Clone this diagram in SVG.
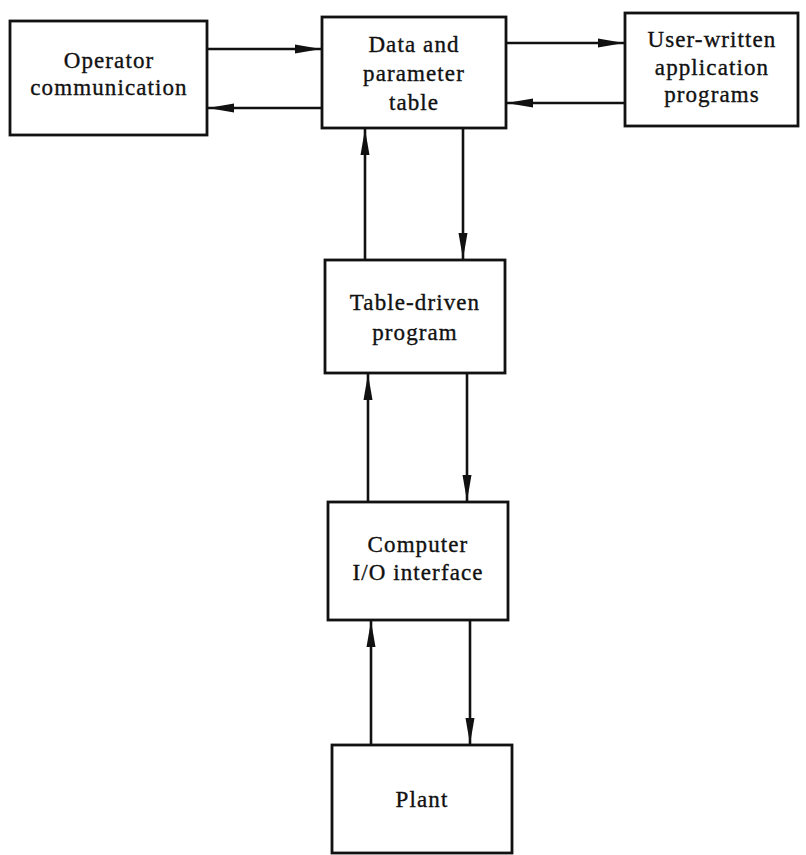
<svg xmlns="http://www.w3.org/2000/svg" width="806" height="855" viewBox="0 0 806 855">
<style>
.box{fill:#fff;stroke:#111;stroke-width:2.8}
.lbl{font-family:"Liberation Serif","Times New Roman",serif;font-size:23px;letter-spacing:1.1px;fill:#111;stroke:#111;stroke-width:0.35;text-anchor:middle}
.con{stroke:#111;stroke-width:2.6;fill:none;marker-end:url(#ah)}
</style>
<defs>
<marker id="ah" markerUnits="userSpaceOnUse" markerWidth="27" markerHeight="11" refX="26" refY="5.5" orient="auto">
<path d="M0,1 L26,5.5 L0,10 Z" fill="#111"/>
</marker>
</defs>
<rect width="806" height="855" fill="#fff"/>
<g id="operator">
<rect class="box" x="10" y="21" width="197" height="114"/>
<text class="lbl" x="109" y="68">Operator</text>
<text class="lbl" x="109" y="95">communication</text>
</g>
<g id="data-table">
<rect class="box" x="322" y="17" width="184" height="111"/>
<text class="lbl" x="414" y="52">Data and</text>
<text class="lbl" x="414" y="81">parameter</text>
<text class="lbl" x="414" y="110">table</text>
</g>
<g id="user-programs">
<rect class="box" x="625" y="13" width="173" height="113"/>
<text class="lbl" x="712" y="47">User-written</text>
<text class="lbl" x="712" y="75">application</text>
<text class="lbl" x="712" y="102">programs</text>
</g>
<g id="table-driven">
<rect class="box" x="325" y="260" width="180" height="113"/>
<text class="lbl" x="415" y="310">Table-driven</text>
<text class="lbl" x="415" y="340">program</text>
</g>
<g id="io-interface">
<rect class="box" x="328" y="502" width="180" height="118"/>
<text class="lbl" x="418" y="552">Computer</text>
<text class="lbl" x="418" y="580">I/O interface</text>
</g>
<g id="plant">
<rect class="box" x="332" y="745" width="180" height="108"/>
<text class="lbl" x="422" y="807">Plant</text>
</g>
<g id="connectors">
<line class="con" x1="207" y1="49" x2="321" y2="49"/>
<line class="con" x1="322" y1="108" x2="208" y2="108"/>
<line class="con" x1="506" y1="43" x2="624" y2="43"/>
<line class="con" x1="625" y1="103" x2="507" y2="103"/>
<line class="con" x1="365" y1="260" x2="365" y2="129"/>
<line class="con" x1="463" y1="128" x2="463" y2="259"/>
<line class="con" x1="368" y1="502" x2="368" y2="374"/>
<line class="con" x1="467" y1="373" x2="467" y2="501"/>
<line class="con" x1="371" y1="745" x2="371" y2="621"/>
<line class="con" x1="470" y1="620" x2="470" y2="744"/>
</g>
</svg>
